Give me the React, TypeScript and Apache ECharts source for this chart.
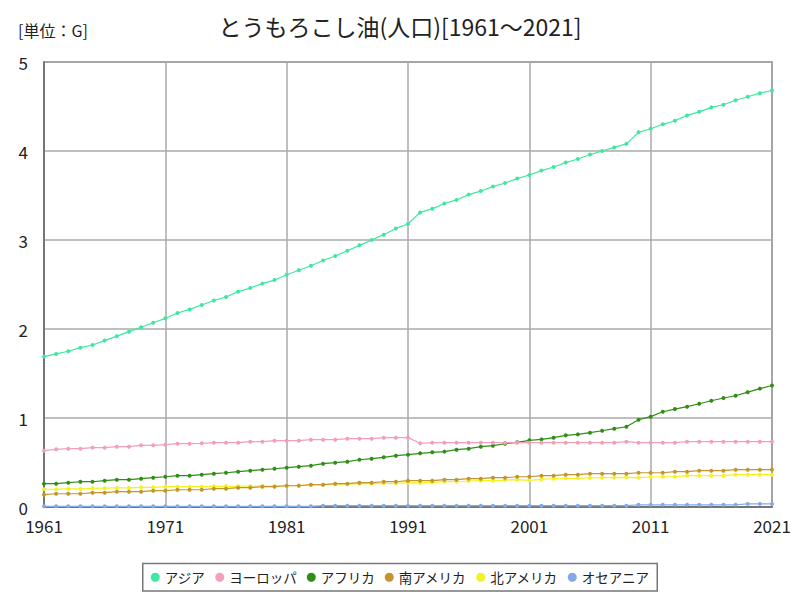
import React, { useEffect, useRef } from "react";
import * as echarts from "echarts";

const years: string[] = [];
for (let y = 1961; y <= 2021; y++) years.push(String(y));

const seriesNames = ["アジア", "ヨーロッパ", "アフリカ", "南アメリカ", "北アメリカ", "オセアニア"];
const colors = ["#3ee8a0", "#f0a0b8", "#2f8f14", "#c4952e", "#f2f224", "#82aae6"];

const asia = [
  1.69, 1.72, 1.75, 1.79, 1.82, 1.87, 1.92, 1.97, 2.02, 2.07,
  2.12, 2.18, 2.22, 2.27, 2.32, 2.36, 2.42, 2.46, 2.51, 2.55,
  2.61, 2.66, 2.71, 2.77, 2.82, 2.88, 2.94, 3.0, 3.06, 3.13,
  3.18, 3.31, 3.35, 3.41, 3.45, 3.51, 3.55, 3.6, 3.64, 3.69,
  3.73, 3.78, 3.82, 3.87, 3.91, 3.96, 4.0, 4.04, 4.08, 4.21,
  4.25, 4.3, 4.34, 4.4, 4.44, 4.49, 4.52, 4.57, 4.61, 4.65,
  4.68,
];
const europe = [
  0.633, 0.648, 0.655, 0.655, 0.667, 0.667, 0.678, 0.678, 0.693, 0.693,
  0.7, 0.711, 0.711, 0.716, 0.723, 0.723, 0.723, 0.734, 0.734, 0.745,
  0.745, 0.745, 0.756, 0.756, 0.756, 0.768, 0.768, 0.768, 0.779, 0.779,
  0.779, 0.716, 0.723, 0.723, 0.723, 0.723, 0.723, 0.723, 0.723, 0.723,
  0.723, 0.723, 0.723, 0.723, 0.723, 0.723, 0.723, 0.723, 0.734, 0.723,
  0.723, 0.723, 0.723, 0.734, 0.734, 0.734, 0.734, 0.734, 0.734, 0.734,
  0.734,
];
const africa = [
  0.262, 0.262, 0.273, 0.284, 0.284, 0.296, 0.307, 0.307, 0.318, 0.329,
  0.34, 0.352, 0.352, 0.363, 0.374, 0.385, 0.397, 0.408, 0.419, 0.43,
  0.442, 0.453, 0.464, 0.487, 0.498, 0.509, 0.531, 0.543, 0.558, 0.577,
  0.588, 0.603, 0.614, 0.622, 0.644, 0.655, 0.678, 0.689, 0.711, 0.727,
  0.749, 0.76, 0.779, 0.805, 0.816, 0.835, 0.857, 0.88, 0.902, 0.981,
  1.015, 1.07, 1.1, 1.127, 1.16, 1.194, 1.225, 1.25, 1.29, 1.33,
  1.365,
];
const southAmerica = [
  0.138, 0.149, 0.149, 0.149, 0.161, 0.161, 0.172, 0.172, 0.172, 0.183,
  0.183, 0.194, 0.194, 0.194, 0.206, 0.206, 0.217, 0.217, 0.228, 0.228,
  0.239, 0.239, 0.251, 0.251, 0.262, 0.262, 0.273, 0.273, 0.284, 0.284,
  0.296, 0.296, 0.296, 0.307, 0.307, 0.318, 0.318, 0.329, 0.329, 0.34,
  0.34, 0.352, 0.352, 0.363, 0.363, 0.374, 0.374, 0.374, 0.374, 0.385,
  0.385, 0.385, 0.397, 0.397, 0.408, 0.408, 0.408, 0.419, 0.419, 0.419,
  0.419,
];
const northAmerica = [
  0.199, 0.2, 0.203, 0.203, 0.21, 0.212, 0.214, 0.214, 0.221, 0.221,
  0.228, 0.228, 0.228, 0.228, 0.232, 0.232, 0.232, 0.236, 0.236, 0.236,
  0.24, 0.243, 0.247, 0.251, 0.255, 0.258, 0.262, 0.262, 0.266, 0.266,
  0.273, 0.27, 0.277, 0.284, 0.284, 0.292, 0.296, 0.296, 0.303, 0.307,
  0.3, 0.311, 0.318, 0.322, 0.322, 0.326, 0.329, 0.329, 0.333, 0.329,
  0.337, 0.34, 0.34, 0.352, 0.352, 0.352, 0.352, 0.363, 0.363, 0.363,
  0.363,
];
const oceania = [
  0.008, 0.008, 0.008, 0.008, 0.008, 0.008, 0.008, 0.008, 0.008, 0.008,
  0.008, 0.008, 0.008, 0.008, 0.008, 0.008, 0.008, 0.008, 0.008, 0.008,
  0.008, 0.008, 0.008, 0.015, 0.015, 0.015, 0.015, 0.015, 0.015, 0.015,
  0.015, 0.015, 0.015, 0.015, 0.015, 0.015, 0.015, 0.015, 0.015, 0.015,
  0.015, 0.015, 0.015, 0.015, 0.015, 0.015, 0.015, 0.015, 0.015, 0.025,
  0.025, 0.025, 0.025, 0.025, 0.025, 0.025, 0.025, 0.025, 0.035, 0.035,
  0.035,
];

const allData = [asia, europe, africa, southAmerica, northAmerica, oceania];

const FONT = "'Noto Sans CJK JP', sans-serif";

export default function App() {
  const ref = useRef<HTMLDivElement>(null);
  useEffect(() => {
    if (!ref.current) return;
    const chart = echarts.init(ref.current, undefined, { renderer: "svg" });
    chart.setOption({
      animation: false,
      backgroundColor: "#ffffff",
      textStyle: { fontFamily: FONT },
      title: [
        {
          text: "とうもろこし油(人口)[1961～2021]",
          left: "center",
          top: 9,
          textStyle: { fontFamily: FONT, fontSize: 23, fontWeight: "normal", color: "#222" },
        },
        {
          text: "[単位：G]",
          left: 13,
          top: 17,
          textStyle: { fontFamily: FONT, fontSize: 16, fontWeight: "normal", color: "#222" },
        },
      ],
      legend: {
        bottom: 9,
        left: "center",
        data: seriesNames,
        icon: "circle",
        itemWidth: 9,
        itemHeight: 9,
        itemGap: 10,
        borderColor: "#777",
        borderWidth: 1.5,
        padding: [7, 8],
        textStyle: { fontFamily: FONT, fontSize: 13.5, color: "#222" },
      },
      grid: {
        left: 44,
        right: 28,
        top: 62,
        bottom: 93,
        show: true,
        borderColor: "#777",
        borderWidth: 1.5,
      },
      xAxis: {
        type: "category",
        data: years,
        boundaryGap: false,
        axisLine: { lineStyle: { color: "#666", width: 1.5 } },
        axisTick: { show: false },
        axisLabel: {
          interval: 9,
          fontSize: 17,
          color: "#222",
          margin: 10,
          fontFamily: FONT,
        },
        splitLine: { show: true, interval: 9, lineStyle: { color: "#aaa", width: 1.5 } },
      },
      yAxis: {
        type: "value",
        min: 0,
        max: 5,
        interval: 1,
        axisLine: { show: true, lineStyle: { color: "#666", width: 1.5 } },
        axisTick: { show: false },
        axisLabel: { fontSize: 17, color: "#222", margin: 16, fontFamily: FONT },
        splitLine: { lineStyle: { color: "#aaa", width: 1.5 } },
      },
      series: seriesNames.map((name, i) => ({
        name,
        type: "line",
        data: allData[i],
        symbol: "circle",
        symbolSize: 4,
        itemStyle: { color: colors[i] },
        lineStyle: { color: colors[i], width: 1.2 },
        z: 10 - i,
      })),
    });
    return () => chart.dispose();
  }, []);
  return <div ref={ref} style={{ width: 800, height: 600, position: "absolute", left: 0, top: 0 }} />;
}
